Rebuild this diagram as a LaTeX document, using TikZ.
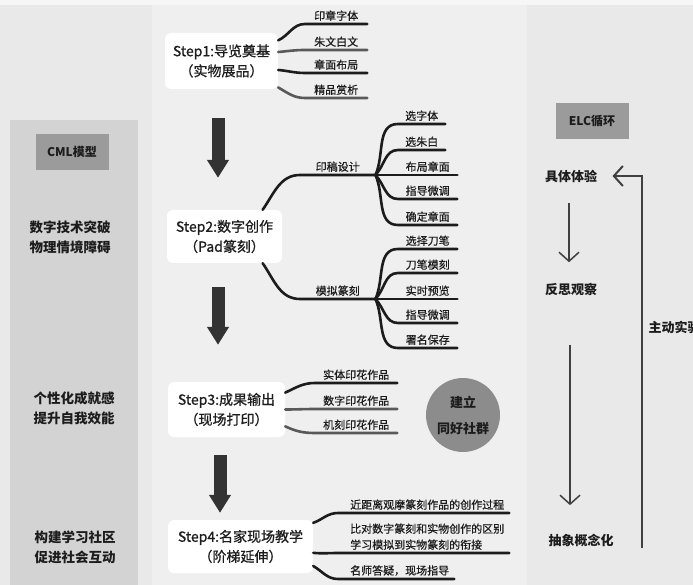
\documentclass[tikz,border=0pt]{standalone}
\usepackage{fontspec}
\setmainfont{Noto Sans CJK SC}
\newfontfamily\stepfont{Noto Sans CJK SC}[FakeBold=0.8]
\newfontfamily\leaffont{Noto Sans CJK SC}[FakeBold=0.6]
\usetikzlibrary{arrows.meta,positioning}
\definecolor{page-grey}{RGB}{233,233,233}
\definecolor{mid-grey}{RGB}{239,239,239}
\definecolor{panel-grey}{RGB}{211,211,211}
\definecolor{head-grey}{RGB}{155,155,155}
\definecolor{club-grey}{RGB}{140,140,140}
\definecolor{ink}{RGB}{28,28,28}

\begin{document}
\begin{tikzpicture}[x=1pt, y=1pt, text=ink,
    stepbox/.style={rectangle, fill=white, rounded corners=6pt, align=center, font=\stepfont\fontsize{14}{20}\selectfont},
    leaf/.style={anchor=south west, inner xsep=0pt, inner ysep=3pt, font=\leaffont\fontsize{11}{16}\selectfont},
    note/.style={anchor=south west, align=left, inner xsep=0pt, inner ysep=3pt, font=\leaffont\fontsize{11}{16}\selectfont},
    branch/.style={line width=2.6pt, draw=ink, line cap=round},
    bigarrow/.style={line width=13pt, draw=black!80, -{Triangle[width=21pt,length=18pt]}},
    elcarrow/.style={line width=1.5pt, draw=black!75, -{Straight Barb[length=9pt,width=20pt]}},
    sidetext/.style={align=center, font=\bfseries\fontsize{13.5}{20}\selectfont},
    elclabel/.style={font=\bfseries\fontsize{13}{16}\selectfont},
    headbox/.style={fill=head-grey, minimum width=73pt, minimum height=36pt, font=\bfseries\fontsize{12}{14}\selectfont}]

    % Background panels
    \useasboundingbox (0,0) rectangle (693,-585);
    \fill[page-grey] (0,0) rectangle (693,-585);
    \fill[white!60!page-grey] (0,0) rectangle (693,-5);
    \fill[mid-grey] (152,-5) rectangle (527,-585);
    \fill[panel-grey] (10,-120) rectangle (138,-585);

    % CML column
    \node[headbox] (cml) at (72,-152) {CML模型};
    \node[sidetext] (cmla) at (70,-237) {数字技术突破\\物理情境障碍};
    \node[sidetext] (cmlb) at (74,-408) {个性化成就感\\提升自我效能};
    \node[sidetext] (cmlc) at (75,-547) {构建学习社区\\促进社会互动};

    % Step boxes
    \node[stepbox, minimum width=113pt, minimum height=56pt] (s1) at (221.5,-61) {Step1:导览奠基\\（实物展品）};
    \node[stepbox, minimum width=115pt, minimum height=53pt] (s2) at (224.5,-236.5) {Step2:数字创作\\（Pad篆刻）};
    \node[stepbox, minimum width=117pt, minimum height=55pt] (s3) at (226.5,-409.5) {Step3:成果输出\\（现场打印）};
    \node[stepbox, minimum width=145pt, minimum height=53pt] (s4) at (240.5,-546.5) {Step4:名家现场教学\\（阶梯延伸）};

    % Arrows between steps
    \draw[bigarrow, shorten <=29pt, shorten >=32pt] ([xshift=-3.5pt]s1.south) -- ([xshift=-3.5pt]s1.south |- s2.north);
    \draw[bigarrow, shorten <=24pt, shorten >=37pt] ([xshift=-6.5pt]s2.south) -- ([xshift=-6.5pt]s2.south |- s3.north);
    \draw[bigarrow, shorten <=18pt, shorten >=7pt] ([xshift=-6.5pt]s3.south) -- ([xshift=-6.5pt]s3.south |- s4.north);

    % Step1 leaves
    \node[leaf, minimum width=62pt] (s1a) at (305,-24) {印章字体};
    \node[leaf, minimum width=62pt] (s1b) at (305,-50) {朱文白文};
    \node[leaf, minimum width=62pt] (s1c) at (305,-73) {章面布局};
    \node[leaf, minimum width=62pt] (s1d) at (305,-98) {精品赏析};
    \draw[branch] (s1.20) to[out=25,in=180] (s1a.south west) -- (s1a.south east);
    \draw[branch, draw=black!65] (s1.9) to[out=5,in=180] (s1b.south west) -- (s1b.south east);
    \draw[branch] (s1.-9) to[out=-5,in=180] (s1c.south west) -- (s1c.south east);
    \draw[branch, draw=black!65] (s1.-25) to[out=-30,in=180] (s1d.south west) -- (s1d.south east);

    % Step2 hubs
    \node[leaf, minimum width=75pt] (s2a) at (300,-175) {印稿设计};
    \node[leaf, minimum width=75pt] (s2b) at (300,-299) {模拟篆刻};
    \draw[branch] (s2.35) to[out=55,in=180] (s2a.south west) -- (s2a.south east);
    \draw[branch] (s2.-35) to[out=-55,in=180] (s2b.south west) -- (s2b.south east);

    % Step2 design leaves
    \node[leaf, minimum width=47pt] (s2a1) at (398,-124) {选字体};
    \node[leaf, minimum width=47pt] (s2a2) at (398,-150) {选朱白};
    \node[leaf, minimum width=59pt] (s2a3) at (398,-175) {布局章面};
    \node[leaf, minimum width=59pt] (s2a4) at (398,-199) {指导微调};
    \node[leaf, minimum width=59pt] (s2a5) at (398,-225) {确定章面};
    \draw[branch] (s2a.south east) to[out=65,in=180] (s2a1.south west) -- (s2a1.south east);
    \draw[branch] (s2a.south east) to[out=45,in=180] (s2a2.south west) -- (s2a2.south east);
    \draw[branch] (s2a.south east) -- (s2a3.south west) -- (s2a3.south east);
    \draw[branch] (s2a.south east) to[out=-45,in=180] (s2a4.south west) -- (s2a4.south east);
    \draw[branch] (s2a.south east) to[out=-65,in=180] (s2a5.south west) -- (s2a5.south east);

    % Step2 carving leaves
    \node[leaf, minimum width=59pt] (s2b1) at (398,-249) {选择刀笔};
    \node[leaf, minimum width=59pt] (s2b2) at (398,-273) {刀笔模刻};
    \node[leaf, minimum width=59pt] (s2b3) at (398,-299) {实时预览};
    \node[leaf, minimum width=59pt] (s2b4) at (398,-323) {指导微调};
    \node[leaf, minimum width=59pt] (s2b5) at (398,-348) {署名保存};
    \draw[branch] (s2b.south east) to[out=65,in=180] (s2b1.south west) -- (s2b1.south east);
    \draw[branch] (s2b.south east) to[out=45,in=180] (s2b2.south west) -- (s2b2.south east);
    \draw[branch] (s2b.south east) -- (s2b3.south west) -- (s2b3.south east);
    \draw[branch] (s2b.south east) to[out=-45,in=180] (s2b4.south west) -- (s2b4.south east);
    \draw[branch] (s2b.south east) to[out=-65,in=180] (s2b5.south west) -- (s2b5.south east);

    % Step3 leaves
    \node[leaf, minimum width=82pt] (s3a) at (315,-383) {实体印花作品};
    \node[leaf, minimum width=82pt] (s3b) at (315,-409) {数字印花作品};
    \node[leaf, minimum width=82pt] (s3c) at (315,-433) {机刻印花作品};
    \draw[branch] (s3.16) to[out=25,in=180] (s3a.south west) -- (s3a.south east);
    \draw[branch, draw=black!65] (s3.0) to[out=0,in=180] (s3b.south west) -- (s3b.south east);
    \draw[branch, draw=black!65] (s3.-16) to[out=-25,in=180] (s3c.south west) -- (s3c.south east);

    % Community circle
    \node[circle, fill=club-grey, minimum size=72pt, align=center, font=\bfseries\fontsize{13}{26}\selectfont] (club) at (463,-415) {建立\\同好社群};

    % Step4 leaves
    \node[note] (s4a) at (350,-513) {近距离观摩篆刻作品的创作过程};
    \node[note] (s4b) at (350,-553) {比对数字篆刻和实物创作的区别\\学习模拟到实物篆刻的衔接};
    \node[note] (s4c) at (350,-579) {名师答疑，现场指导};
    \draw[branch] (s4.18) to[out=20,in=180] ([xshift=-12pt]s4a.south west) -- ([xshift=5pt]s4a.south east);
    \draw[branch] (s4.-5) to[out=-5,in=180] ([xshift=-12pt]s4b.south west) -- ([xshift=5pt]s4b.south east);
    \draw[branch] (s4.-15) to[out=-30,in=180] ([xshift=-12pt]s4c.south west) -- ([xshift=5pt]s4c.south east);

    % ELC cycle
    \node[headbox] (elc) at (592,-121) {ELC循环};
    \node[elclabel] (e1) at (571,-176) {具体体验};
    \node[elclabel] (e2) at (571,-290) {反思观察};
    \node[elclabel] (e3) at (581,-540) {抽象概念化};
    \node[elclabel, anchor=west] (e4) at (645,-327) {主动实验};
    \coordinate (elcloop) at (642,-548);
    \draw[elcarrow, shorten <=17pt, shorten >=18pt] ([xshift=-2pt]e1.south) -- ([xshift=-2pt]e1.south |- e2.north);
    \draw[elcarrow, shorten <=45pt, shorten >=25pt] ([xshift=-1pt]e2.south) -- ([xshift=-1pt]e2.south |- e3.north);
    \draw[elcarrow, line width=2pt, shorten >=12pt] (elcloop) |- (e1.east);
\end{tikzpicture}
\end{document}
